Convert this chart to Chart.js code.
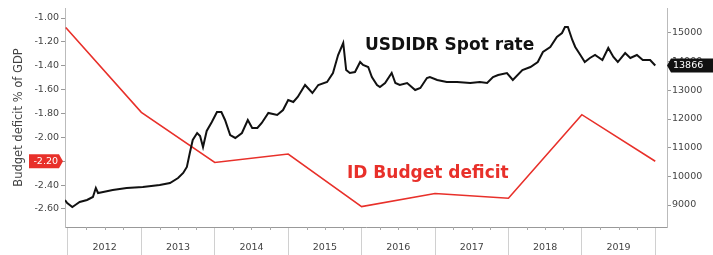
<!DOCTYPE html>
<html>
<head>
<meta charset="utf-8">
<script src="https://cdn.jsdelivr.net/npm/chart.js@4.4.1/dist/chart.umd.min.js"></script>
<style>
  html, body { margin: 0; padding: 0; background: #fff; }
  #wrap { width: 713px; height: 255px; }
</style>
</head>
<body>
<div id="wrap"><canvas id="fxChart" width="713" height="255"></canvas></div>
<script>
// ===== Data =====
const yearLabels = ["2012", "2013", "2014", "2015", "2016", "2017", "2018", "2019"];

// ID budget deficit, % of GDP (left axis)
const budgetDates = [2011.97, 2013.0, 2014.0, 2015.0, 2016.0, 2017.0, 2018.0, 2019.0, 2020.0];
const budgetDeficit = [-1.08, -1.79, -2.21, -2.14, -2.58, -2.47, -2.51, -1.81, -2.20];

// USDIDR spot rate (right axis)
const fxDates = [
  2011.96, 2011.99, 2012.06, 2012.10, 2012.16, 2012.26, 2012.34, 2012.38, 2012.41, 2012.48,
  2012.61, 2012.80, 2013.02, 2013.25, 2013.39, 2013.50, 2013.57, 2013.62, 2013.66, 2013.70,
  2013.76, 2013.80, 2013.84, 2013.89, 2013.96, 2014.03, 2014.09, 2014.14, 2014.21, 2014.28,
  2014.37, 2014.45, 2014.51, 2014.58, 2014.64, 2014.73, 2014.85, 2014.93, 2015.00, 2015.07,
  2015.13, 2015.23, 2015.33, 2015.41, 2015.53, 2015.61, 2015.68, 2015.75, 2015.79, 2015.84,
  2015.91, 2015.98, 2016.02, 2016.09, 2016.14, 2016.21, 2016.25, 2016.32, 2016.41, 2016.46,
  2016.52, 2016.62, 2016.73, 2016.80, 2016.89, 2016.93, 2017.03, 2017.16, 2017.30, 2017.48,
  2017.61, 2017.71, 2017.79, 2017.86, 2017.98, 2018.06, 2018.19, 2018.30, 2018.40, 2018.47,
  2018.57, 2018.66, 2018.73, 2018.77, 2018.81, 2018.87, 2018.91, 2018.98, 2019.04, 2019.11,
  2019.18, 2019.28, 2019.36, 2019.43, 2019.49, 2019.59, 2019.66, 2019.75, 2019.83, 2019.93,
  2020.00
];
const fxRate = [
  9175, 9070, 8931, 9000, 9105, 9175, 9280, 9594, 9419, 9454,
  9524, 9594, 9628, 9698, 9768, 9942, 10117, 10326, 10814, 11268,
  11512, 11407, 11024, 11582, 11896, 12244, 12244, 11966, 11442, 11338,
  11512, 11966, 11686, 11686, 11861, 12210, 12140, 12314, 12663, 12593,
  12768, 13186, 12907, 13186, 13291, 13605, 14233, 14651, 13709, 13605,
  13640, 13988, 13884, 13814, 13465, 13186, 13116, 13256, 13605, 13256,
  13186, 13256, 13012, 13082, 13430, 13465, 13361, 13291, 13291, 13256,
  13291, 13256, 13465, 13535, 13605, 13361, 13709, 13814, 13988, 14337,
  14512, 14860, 15000, 15209, 15209, 14756, 14512, 14233, 13988, 14128,
  14233, 14058, 14477, 14163, 13988, 14302, 14128, 14233, 14058, 14058,
  13866
];

const leftTicks = [-1.0, -1.2, -1.4, -1.6, -1.8, -2.0, -2.2, -2.4, -2.6];
const rightTicks = [9000, 10000, 11000, 12000, 13000, 14000, 15000];

const RED = "#e8302a";
const tickFont = { family: "DejaVu Sans", size: 9.5 };

// ===== Extra drawing: minor ticks, last-value tags, series captions =====
const decorPlugin = {
  id: "decor",
  afterDraw(chart) {
    const ctx = chart.ctx;
    const area = chart.chartArea;
    const x = chart.scales.x, yl = chart.scales.y, yr = chart.scales.y1;

    // quarterly minor ticks on the time axis
    ctx.save();
    ctx.strokeStyle = "#aaa";
    ctx.lineWidth = 1;
    yearLabels.forEach(y => {
      [0.25, 0.5, 0.75].forEach(q => {
        const px = Math.round(x.getPixelForValue(+y + q)) + 0.5;
        ctx.beginPath();
        ctx.moveTo(px, area.bottom);
        ctx.lineTo(px, area.bottom + 3);
        ctx.stroke();
      });
    });
    ctx.restore();

    // last value tags
    const lastDef = budgetDeficit[budgetDeficit.length - 1];
    const lastFx = fxRate[fxRate.length - 1];
    ctx.save();
    ctx.font = "9.5px 'DejaVu Sans'";
    ctx.textBaseline = "middle";

    let ty = yl.getPixelForValue(lastDef);
    ctx.fillStyle = RED;
    ctx.beginPath();
    ctx.moveTo(29, ty - 7);
    ctx.lineTo(59, ty - 7);
    ctx.lineTo(63, ty);
    ctx.lineTo(59, ty + 7);
    ctx.lineTo(29, ty + 7);
    ctx.closePath();
    ctx.fill();
    ctx.fillStyle = "#fff";
    ctx.textAlign = "right";
    ctx.fillText(lastDef.toFixed(2), 58, ty + 0.5);

    ty = yr.getPixelForValue(lastFx);
    ctx.fillStyle = "#111";
    ctx.beginPath();
    ctx.moveTo(667, ty);
    ctx.lineTo(671, ty - 7);
    ctx.lineTo(713, ty - 7);
    ctx.lineTo(713, ty + 7);
    ctx.lineTo(671, ty + 7);
    ctx.closePath();
    ctx.fill();
    ctx.fillStyle = "#fff";
    ctx.textAlign = "left";
    ctx.fillText(String(lastFx), 673, ty + 0.5);

    // series captions
    ctx.font = "bold 17px 'DejaVu Sans'";
    ctx.textAlign = "left";
    ctx.fillStyle = "#111";
    ctx.fillText("USDIDR Spot rate", 365, 46);
    ctx.fillStyle = RED;
    ctx.fillText("ID Budget deficit", 347, 174);
    ctx.restore();
  }
};

// ===== Chart =====
new Chart(document.getElementById("fxChart"), {
  type: "line",
  data: {
    datasets: [
      {
        label: "USDIDR Spot rate",
        data: fxDates.map((d, i) => ({ x: d, y: fxRate[i] })),
        yAxisID: "y1",
        borderColor: "#111",
        borderWidth: 2,
        pointRadius: 0,
        tension: 0,
        order: 0
      },
      {
        label: "ID Budget deficit",
        data: budgetDates.map((d, i) => ({ x: d, y: budgetDeficit[i] })),
        yAxisID: "y",
        borderColor: RED,
        borderWidth: 1.6,
        pointRadius: 0,
        tension: 0,
        order: 1
      }
    ]
  },
  options: {
    responsive: false,
    animation: false,
    devicePixelRatio: 1,
    layout: { padding: { top: 8, left: 0, right: 0, bottom: 0 } },
    plugins: { legend: { display: false }, tooltip: { enabled: false } },
    scales: {
      x: {
        type: "linear",
        min: 2011.96,
        max: 2020.16,
        afterBuildTicks: s => {
          const t = [];
          yearLabels.forEach(y => { t.push({ value: +y }); t.push({ value: +y + 0.5 }); });
          t.push({ value: 2020 });
          s.ticks = t;
        },
        afterFit: s => { s.height = 28; },
        grid: {
          drawOnChartArea: false,
          drawTicks: true,
          tickLength: 28,
          color: c => (c.tick && c.tick.value % 1 === 0 ? "#d0d0d0" : "rgba(0,0,0,0)")
        },
        border: { color: "#999" },
        ticks: {
          autoSkip: false,
          maxRotation: 0,
          padding: -13,
          font: tickFont,
          color: "#444",
          callback: v => (v % 1 !== 0 ? String(Math.floor(v)) : "")
        }
      },
      y: {
        position: "left",
        min: -2.751,
        max: -0.916,
        afterBuildTicks: s => { s.ticks = leftTicks.map(v => ({ value: v })); },
        afterFit: s => { s.width = 65; },
        grid: { drawOnChartArea: false, tickLength: 4, color: "#999" },
        border: { color: "#bbb" },
        ticks: { padding: 2, font: tickFont, color: "#444", callback: v => v.toFixed(2) },
        title: {
          display: true,
          text: "Budget deficit % of GDP",
          font: { family: "DejaVu Sans", size: 11.5 },
          color: "#444",
          padding: { top: 12, bottom: 0 }
        }
      },
      y1: {
        position: "right",
        min: 8233,
        max: 15872,
        afterBuildTicks: s => { s.ticks = rightTicks.map(v => ({ value: v })); },
        afterFit: s => { s.width = 46; },
        grid: { drawOnChartArea: false, tickLength: 4, color: "#999" },
        border: { color: "#bbb" },
        ticks: { padding: 1, font: tickFont, color: "#444", callback: v => String(v) }
      }
    }
  },
  plugins: [decorPlugin]
});
</script>
</body>
</html>
